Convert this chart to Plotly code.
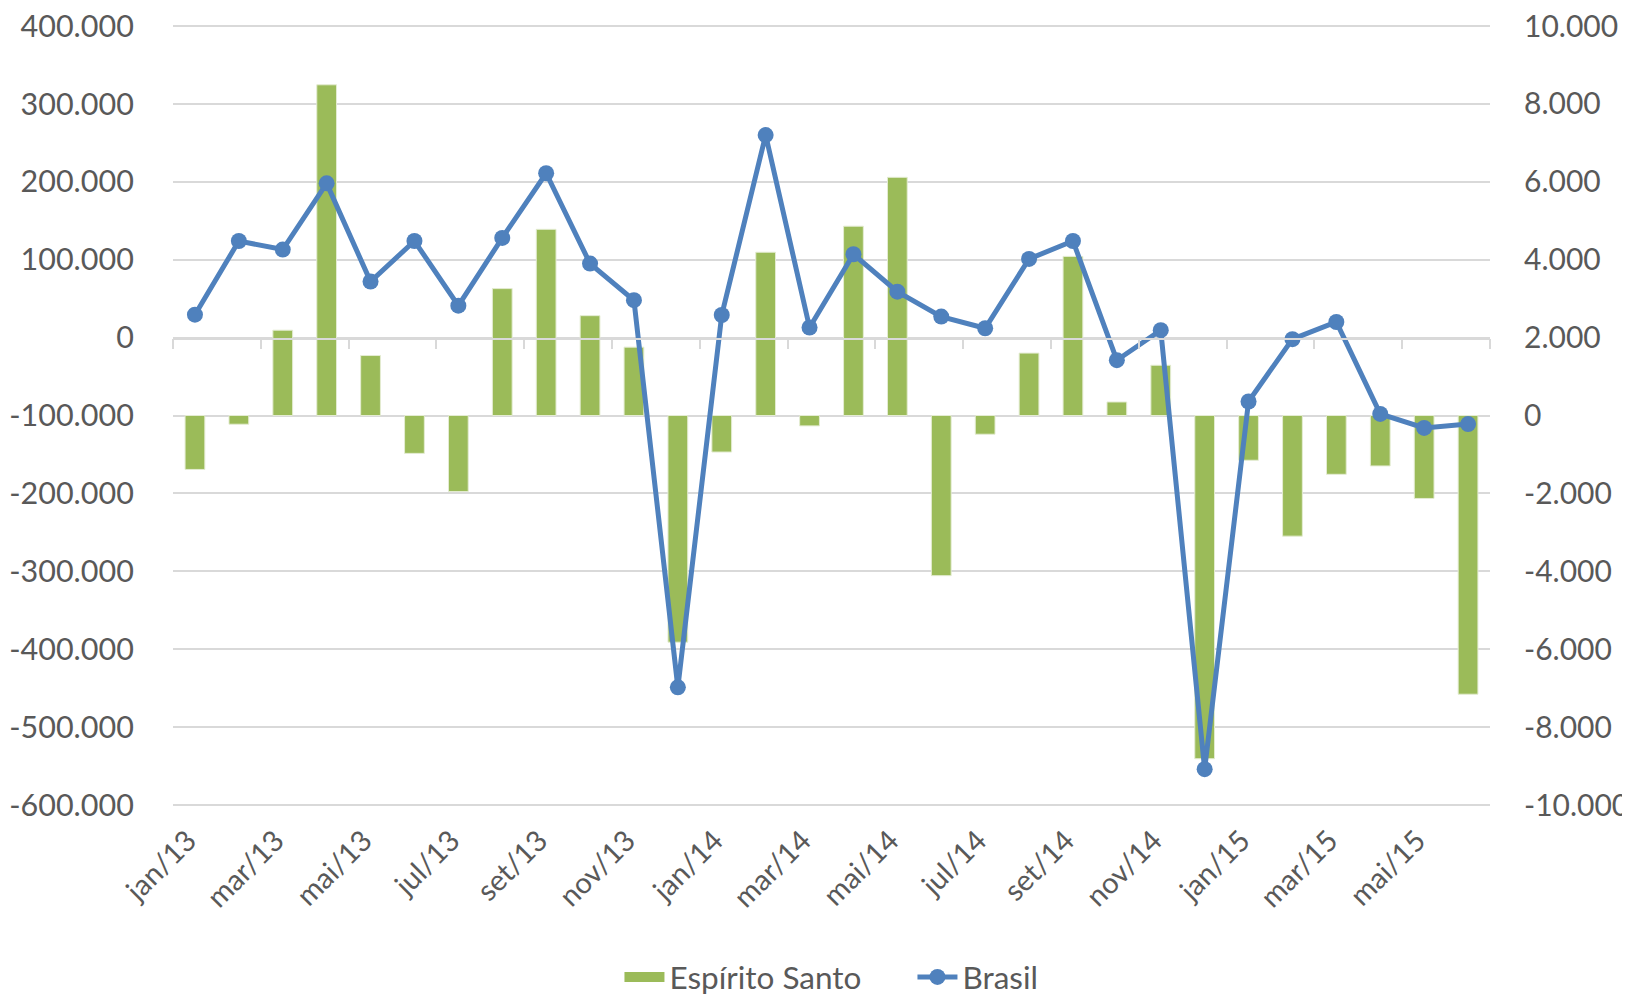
import plotly.graph_objects as go

# ---------------- data ----------------
months = ["jan/13", "fev/13", "mar/13", "abr/13", "mai/13", "jun/13", "jul/13", "ago/13",
          "set/13", "out/13", "nov/13", "dez/13", "jan/14", "fev/14", "mar/14", "abr/14",
          "mai/14", "jun/14", "jul/14", "ago/14", "set/14", "out/14", "nov/14", "dez/14",
          "jan/15", "fev/15", "mar/15", "abr/15", "mai/15", "jun/15"]

espirito_santo = [-1385, -224, 2190, 8490, 1540, -972, -1953, 3258,
                  4780, 2563, 1755, -5820, -938, 4192, -267, 4860,
                  6115, -4112, -481, 1602, 4085, 347, 1290, -8812,
                  -1149, -3097, -1510, -1295, -2130, -7156]

brasil = [29400, 124000, 113000, 198000, 72000, 124000, 41000, 128000,
          211000, 95000, 48000, -449000, 29000, 260000, 13000, 107000,
          59000, 27000, 12000, 101000, 124000, -29000, 9500, -554000,
          -82000, -2000, 20000, -98000, -116000, -111000]

left_tick_vals = [-600000, -500000, -400000, -300000, -200000, -100000, 0,
                  100000, 200000, 300000, 400000]
left_tick_text = ["-600.000", "-500.000", "-400.000", "-300.000", "-200.000", "-100.000", "0",
                  "100.000", "200.000", "300.000", "400.000"]

right_tick_vals = [-10000, -8000, -6000, -4000, -2000, 0, 2000, 4000, 6000, 8000, 10000]
right_tick_text = ["-10.000", "-8.000", "-6.000", "-4.000", "-2.000", "0",
                   "2.000", "4.000", "6.000", "8.000", "10.000"]

shown_labels = months[::2]

# ---------------- style ----------------
FONT = "Lato, 'Open Sans', sans-serif"
TXT = "#595959"
GRID = "#D9D9D9"
GREEN = "#9BBB59"
BLUE = "#4F81BD"
FS = 30.5

# plotly hides gridlines lying within 1px of the plot edge, so pad the
# ranges by 2px so that the top / bottom gridlines are drawn
R_MIN, R_MAX = -10000, 10000
L_MIN, L_MAX = -600000, 400000
PAD_PX = 2.0
INNER_PX = 779.0
R_PAD = (R_MAX - R_MIN) / INNER_PX * PAD_PX
L_PAD = (L_MAX - L_MIN) / INNER_PX * PAD_PX
left_range = [L_MIN - L_PAD, L_MAX + L_PAD]
zero_frac = (0 - left_range[0]) / (left_range[1] - left_range[0])

fig = go.Figure()

fig.add_trace(go.Bar(
    x=months, y=espirito_santo, name="Espírito Santo",
    marker=dict(color=GREEN, line=dict(color="#E4ECD2", width=1)),
    yaxis="y", xaxis="x", hoverinfo="skip", showlegend=False,
    legendgroup="es",
))
# legend proxy for the bar series (wide swatch like the original)
fig.add_trace(go.Scatter(
    x=[None], y=[None], name="Espírito Santo", mode="lines",
    line=dict(color=GREEN, width=20), yaxis="y", xaxis="x",
    legendgroup="es", hoverinfo="skip",
))

fig.add_trace(go.Scatter(
    x=months, y=brasil, name="Brasil", mode="lines+markers",
    line=dict(color=BLUE, width=5),
    marker=dict(color=BLUE, size=16),
    yaxis="y2", xaxis="x", hoverinfo="skip",
))

n = len(months)
boundary_ticks = [i - 0.5 for i in range(0, n + 1, 2)]

# empty helper trace so the category-axis line subplot is created
fig.add_trace(go.Scatter(x=[None], y=[None], xaxis="x2", yaxis="y3",
                         showlegend=False, hoverinfo="skip"))

fig.update_layout(
    width=1630, height=994,
    margin=dict(l=165, r=148, t=16, b=195, autoexpand=False),
    plot_bgcolor="rgba(0,0,0,0)", paper_bgcolor="white",
    font=dict(family=FONT, size=FS, color=TXT),
    bargap=0.55,
    showlegend=True,
    legend=dict(orientation="h", x=0.339, xanchor="left", y=-0.217, yanchor="middle",
                font=dict(size=31.5, color=TXT), itemwidth=40, traceorder="normal",
                entrywidth=238, entrywidthmode="pixels",
                bgcolor="rgba(0,0,0,0)"),
    xaxis=dict(
        type="category", range=[-0.5, n - 0.5],
        tickmode="array", tickvals=shown_labels, ticktext=shown_labels,
        tickangle=-45, showgrid=False, showline=False, zeroline=False,
        ticks="outside", ticklen=4, tickcolor="rgba(0,0,0,0)",
        ticklabelshift=-7,
        tickfont=dict(size=29, color=TXT),
    ),
    yaxis=dict(
        side="right", range=[R_MIN - R_PAD, R_MAX + R_PAD],
        tickmode="array", tickvals=right_tick_vals, ticktext=right_tick_text,
        showgrid=True, gridcolor=GRID, gridwidth=1.5, zeroline=False, showline=False,
        ticks="outside", ticklen=27, tickcolor="rgba(0,0,0,0)",
        ticklabeloverflow="allow",
        tickfont=dict(size=30, color=TXT),
    ),
    yaxis2=dict(
        side="left", overlaying="y", range=left_range,
        tickmode="array", tickvals=left_tick_vals, ticktext=left_tick_text,
        showgrid=False, zeroline=False, showline=False,
        ticks="outside", ticklen=32, tickcolor="rgba(0,0,0,0)",
        ticklabeloverflow="allow",
        tickfont=dict(size=FS, color=TXT),
    ),
    # helper axes: category axis line with boundary ticks crossing at left-axis zero
    yaxis3=dict(domain=[zero_frac, 1.0], range=[0, 1], showgrid=False, zeroline=False,
                showline=False, showticklabels=False, ticks="", fixedrange=True),
    xaxis2=dict(type="linear", anchor="y3", range=[-0.5, n - 0.5],
                tickmode="array", tickvals=boundary_ticks, showticklabels=False,
                ticks="outside", ticklen=10, tickwidth=1.5, tickcolor=GRID,
                showline=True, linecolor=GRID, linewidth=1.5,
                showgrid=False, zeroline=False, fixedrange=True),
)

fig.write_html("out.html", config={"displayModeBar": False})
